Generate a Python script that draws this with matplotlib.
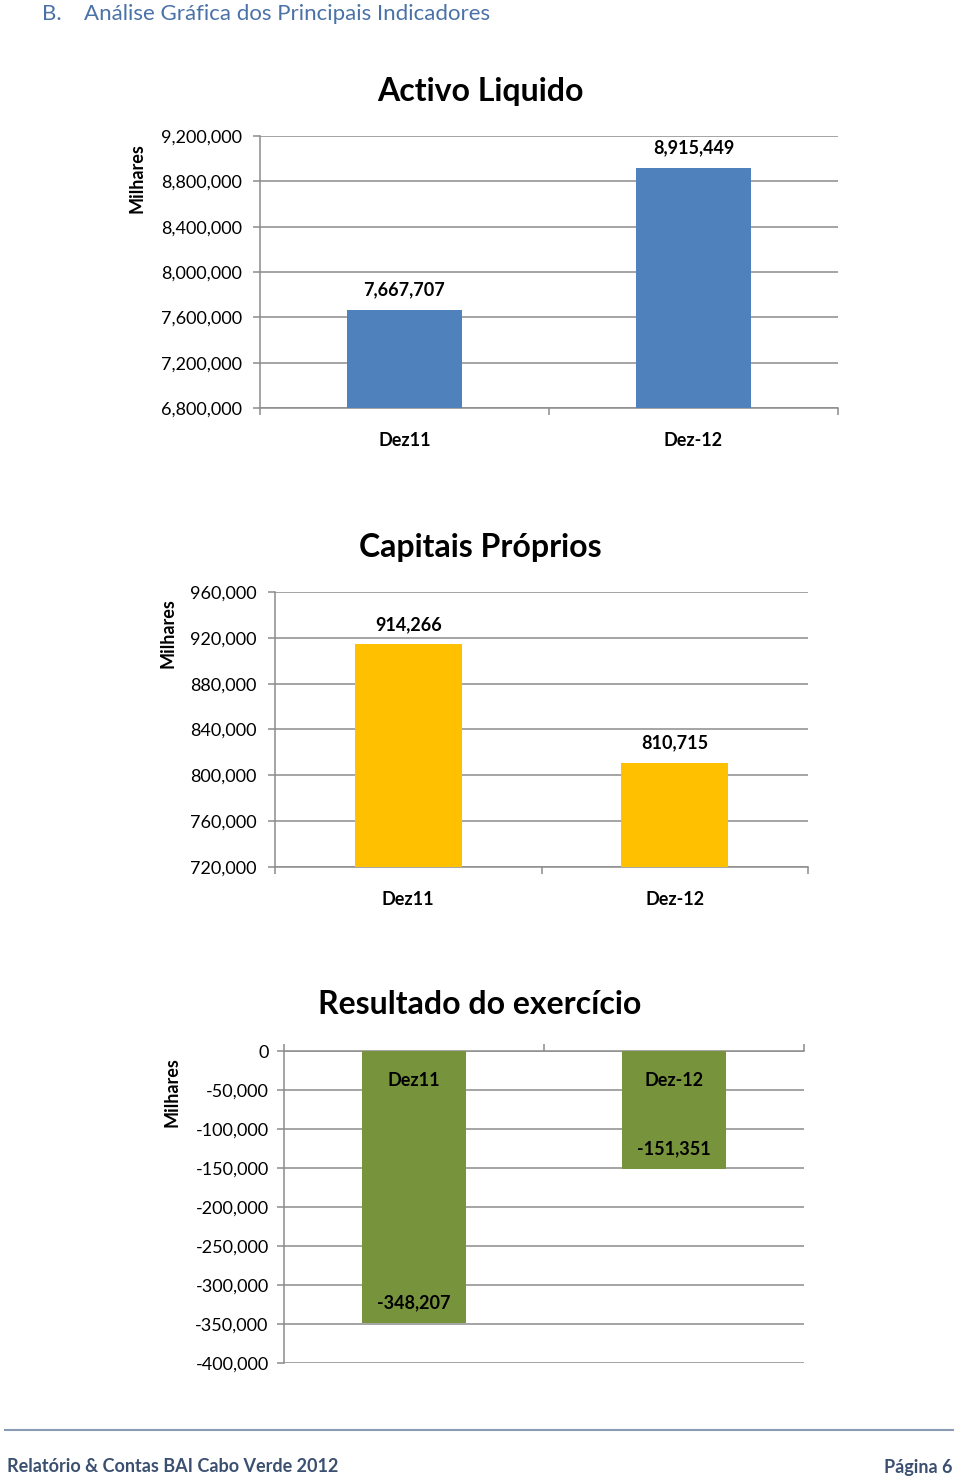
import matplotlib
matplotlib.use("Agg")
import matplotlib.pyplot as plt
from matplotlib.ticker import FuncFormatter, FixedLocator

plt.rcParams['font.family'] = ['Lato', 'DejaVu Sans']

W, H = 960, 1481

# --- data ---
categories = ["Dez11", "Dez-12"]

activo_liquido = [7667707, 8915449]
activo_ticks = [6800000, 7200000, 7600000, 8000000, 8400000, 8800000, 9200000]

capitais_proprios = [914266, 810715]
capitais_ticks = [720000, 760000, 800000, 840000, 880000, 920000, 960000]

resultado = [-348207, -151351]
resultado_ticks = [-400000, -350000, -300000, -250000, -200000, -150000, -100000, -50000, 0]

GRID = "#8c8c8c"
FS = 13


def fx(x):
    return x / W


def fy(y):
    return 1 - y / H


def make_axes(fig, left, top, right, bottom):
    return fig.add_axes([fx(left), fy(bottom), fx(right - left), (bottom - top) / H])


def style_axes(ax, ticks, negative=False, ypad=8):
    ax.set_xlim(-0.5, 1.5)
    ax.set_ylim(ticks[0], ticks[-1])
    ax.yaxis.set_major_locator(FixedLocator(ticks))
    ax.yaxis.set_major_formatter(FuncFormatter(lambda v, p: f"{int(v):,}"))
    ax.grid(axis="y", color=GRID, linewidth=1.1)
    ax.set_axisbelow(True)
    for s in ["top", "right", "bottom"]:
        ax.spines[s].set_visible(False)
    ax.spines["left"].set_color(GRID)
    ax.spines["left"].set_linewidth(1.1)
    ax.tick_params(axis="y", length=5, width=1.1, color=GRID, pad=ypad, labelsize=FS)
    ax.xaxis.set_minor_locator(FixedLocator([-0.5, 0.5, 1.5]))
    if negative:
        # category axis sits at zero, on top
        ax.spines["top"].set_visible(True)
        ax.spines["top"].set_color(GRID)
        ax.spines["top"].set_linewidth(1.1)
        ax.set_xticks([])
        ax.xaxis.set_ticks_position("top")
        ax.xaxis.set_minor_locator(FixedLocator([-0.5, 0.5, 1.5]))
        ax.tick_params(axis="x", which="minor", length=5, width=1.1, color=GRID, top=True)
    else:
        ax.spines["bottom"].set_visible(True)
        ax.spines["bottom"].set_color(GRID)
        ax.spines["bottom"].set_linewidth(1.1)
        ax.set_xticks(range(len(categories)))
        ax.set_xticklabels(categories, fontweight="bold", fontsize=FS)
        ax.tick_params(axis="x", which="major", length=0, pad=17)
        ax.tick_params(axis="x", which="minor", length=5, width=1.1, color=GRID)


fig = plt.figure(figsize=(W / 100, H / 100), dpi=100)

# header
fig.text(fx(42), fy(14), "B.", fontsize=16, color="#4a72a8", va="center", ha="left")
fig.text(fx(84), fy(14), "Análise Gráfica dos Principais Indicadores", fontsize=16,
         color="#4a72a8", va="center", ha="left")

x = range(len(categories))

# chart 1: Activo Liquido
ax1 = make_axes(fig, 260, 136, 838, 408)
style_axes(ax1, activo_ticks)
ax1.bar(x, activo_liquido, width=0.4, color="#4f81bd", zorder=3)
for i, v in enumerate(activo_liquido):
    ax1.annotate(f"{v:,}", (i, v), xytext=(0, 20), textcoords="offset pixels",
                 ha="center", va="center", fontweight="bold", fontsize=FS)
fig.text(fx(480), fy(91), "Activo Liquido", fontsize=23, fontweight="bold", ha="center", va="center")
fig.text(fx(137), fy(178), "Milhares", fontsize=FS, fontweight="bold", rotation=90,
         ha="center", va="center")

# chart 2: Capitais Próprios
ax2 = make_axes(fig, 275, 592, 808, 867)
style_axes(ax2, capitais_ticks)
ax2.bar(x, capitais_proprios, width=0.4, color="#ffc000", zorder=3)
for i, v in enumerate(capitais_proprios):
    ax2.annotate(f"{v:,}", (i, v), xytext=(0, 20), textcoords="offset pixels",
                 ha="center", va="center", fontweight="bold", fontsize=FS)
fig.text(fx(480), fy(547), "Capitais Próprios", fontsize=23, fontweight="bold", ha="center", va="center")
fig.text(fx(168), fy(633), "Milhares", fontsize=FS, fontweight="bold", rotation=90,
         ha="center", va="center")

# chart 3: Resultado do exercício
ax3 = make_axes(fig, 284, 1051, 804, 1363)
style_axes(ax3, resultado_ticks, negative=True, ypad=6)
ax3.bar(x, resultado, width=0.4, color="#77933c", zorder=3)
for i, v in enumerate(resultado):
    ax3.annotate(f"{v:,}", (i, v), xytext=(0, 20), textcoords="offset pixels",
                 ha="center", va="center", fontweight="bold", fontsize=FS)
    ax3.annotate(categories[i], (i, 0), xytext=(0, -30), textcoords="offset pixels",
                 ha="center", va="center", fontweight="bold", fontsize=FS)
fig.text(fx(480), fy(1005), "Resultado do exercício", fontsize=23, fontweight="bold",
         ha="center", va="center")
fig.text(fx(172), fy(1092), "Milhares", fontsize=FS, fontweight="bold", rotation=90,
         ha="center", va="center")

# footer
fig.add_artist(plt.Line2D([fx(5), fx(953)], [fy(1430), fy(1430)], color="#8a9bb3", linewidth=1.5))
fig.text(fx(7), fy(1467), "Relatório & Contas BAI Cabo Verde 2012", fontsize=13,
         fontweight="bold", color="#3b5070", ha="left", va="center")
fig.text(fx(953), fy(1467), "Página 6", fontsize=13, fontweight="bold", color="#3b5070",
         ha="right", va="center")

fig.savefig("out.png", dpi=100)
